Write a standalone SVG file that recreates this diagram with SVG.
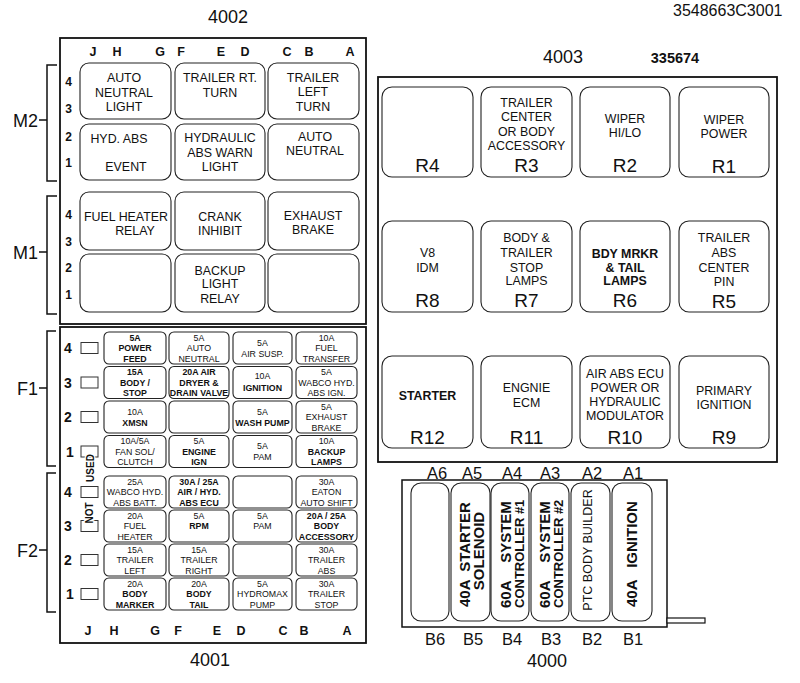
<svg xmlns="http://www.w3.org/2000/svg" width="800" height="683" viewBox="0 0 800 683">
<style>
text{font-family:"Liberation Sans",Arial,sans-serif;fill:#111}
.panel{fill:none;stroke:#111;stroke-width:1.8}
.box{fill:#fff;stroke:#222;stroke-width:1.1}
.sq{fill:#fff;stroke:#333;stroke-width:1}
.br{fill:none;stroke:#111;stroke-width:1.5}
.big{font-size:18px;text-anchor:middle}
.hd{font-size:12.5px;font-weight:bold;text-anchor:middle}
.rn{font-size:12px;font-weight:bold;text-anchor:middle}
.fn{font-size:14px;font-weight:bold;text-anchor:middle}
.rt{font-size:12.4px;text-anchor:middle}
.ft{font-size:8.8px;text-anchor:middle}
.b{font-weight:bold}
.rl{font-size:19px;text-anchor:middle}
.al{font-size:16.5px;text-anchor:middle}
.vt{font-size:15px;font-weight:bold}
</style>
<text x="673" y="16" font-size="16">3548663C3001</text>
<text x="228" y="23" class="big">4002</text>
<text x="210" y="666" class="big">4001</text>
<text x="563" y="63" class="big">4003</text>
<text x="675" y="63" font-size="14.5" font-weight="bold" text-anchor="middle">335674</text>
<text x="547" y="667" class="big">4000</text>

<g id="panel-4002">
<rect class="panel" x="60" y="38" width="306" height="286"/>
<g class="hdrs">
<text x="93" y="56" class="hd">J</text><text x="117" y="56" class="hd">H</text><text x="160" y="56" class="hd">G</text>
<text x="181" y="56" class="hd">F</text><text x="221" y="56" class="hd">E</text><text x="245" y="56" class="hd">D</text>
<text x="287" y="56" class="hd">C</text><text x="309" y="56" class="hd">B</text><text x="350" y="56" class="hd">A</text>
</g>
<text x="68.5" y="86" class="rn">4</text><text x="68.5" y="113" class="rn">3</text>
<text x="68.5" y="141" class="rn">2</text><text x="68.5" y="167" class="rn">1</text>
<text x="68.5" y="219" class="rn">4</text><text x="68.5" y="246" class="rn">3</text>
<text x="68.5" y="272" class="rn">2</text><text x="68.5" y="299" class="rn">1</text>
</g>
<g id="bracket-M2"><path class="br" d="M57,65 H47 V181 H57 M39,120 H47"/><text x="38" y="127" font-size="18" text-anchor="end">M2</text></g>
<g id="bracket-M1"><path class="br" d="M57,196 H47 V314 H57 M39,252 H47"/><text x="38" y="259" font-size="18" text-anchor="end">M1</text></g>

<g id="relay-M2-JG-43"><rect class="box" x="80" y="63" width="91" height="56" rx="9"/>
<text x="124" y="81.5" class="rt">AUTO</text><text x="124" y="96.5" class="rt">NEUTRAL</text><text x="124" y="110.5" class="rt">LIGHT</text></g>
<g id="relay-M2-FD-43"><rect class="box" x="175" y="63" width="90" height="56" rx="9"/>
<text x="220" y="81.5" class="rt">TRAILER RT.</text><text x="220" y="96.5" class="rt">TURN</text></g>
<g id="relay-M2-CA-43"><rect class="box" x="268" y="63" width="91" height="56" rx="9"/>
<text x="313" y="81.5" class="rt">TRAILER</text><text x="313" y="95.5" class="rt">LEFT</text><text x="313" y="110.5" class="rt">TURN</text></g>
<g id="relay-M2-JG-21"><rect class="box" x="80" y="124" width="91" height="56" rx="9"/>
<text x="119" y="142.5" class="rt">HYD. ABS</text><text x="126" y="170.5" class="rt">EVENT</text></g>
<g id="relay-M2-FD-21"><rect class="box" x="175" y="124" width="90" height="56" rx="9"/>
<text x="220" y="141.5" class="rt">HYDRAULIC</text><text x="220" y="156.5" class="rt">ABS WARN</text><text x="220" y="170.5" class="rt">LIGHT</text></g>
<g id="relay-M2-CA-21"><rect class="box" x="268" y="124" width="91" height="56" rx="9"/>
<text x="315" y="140.5" class="rt">AUTO</text><text x="315" y="154.5" class="rt">NEUTRAL</text></g>

<g id="relay-M1-JG-43"><rect class="box" x="80" y="192" width="91" height="58" rx="9"/>
<text x="126" y="220.5" class="rt">FUEL HEATER</text><text x="135" y="234.5" class="rt">RELAY</text></g>
<g id="relay-M1-FD-43"><rect class="box" x="175" y="192" width="90" height="58" rx="9"/>
<text x="220" y="220.5" class="rt">CRANK</text><text x="220" y="234.5" class="rt">INHIBIT</text></g>
<g id="relay-M1-CA-43"><rect class="box" x="268" y="192" width="91" height="58" rx="9"/>
<text x="313" y="219.5" class="rt">EXHAUST</text><text x="313" y="233.5" class="rt">BRAKE</text></g>
<g id="relay-M1-JG-21"><rect class="box" x="80" y="254" width="91" height="58" rx="9"/></g>
<g id="relay-M1-FD-21"><rect class="box" x="175" y="254" width="90" height="58" rx="9"/>
<text x="220" y="274.5" class="rt">BACKUP</text><text x="220" y="288" class="rt">LIGHT</text><text x="220" y="302.5" class="rt">RELAY</text></g>
<g id="relay-M1-CA-21"><rect class="box" x="268" y="254" width="91" height="58" rx="9"/></g>

<g id="panel-4001">
<rect class="panel" x="60" y="327" width="306" height="316"/>
<text x="88" y="635" class="hd">J</text><text x="114" y="635" class="hd">H</text><text x="155" y="635" class="hd">G</text>
<text x="178" y="635" class="hd">F</text><text x="217" y="635" class="hd">E</text><text x="241" y="635" class="hd">D</text>
<text x="283" y="635" class="hd">C</text><text x="304" y="635" class="hd">B</text><text x="347" y="635" class="hd">A</text>
<text x="68" y="353" class="fn">4</text><text x="68" y="387.5" class="fn">3</text><text x="68" y="422" class="fn">2</text><text x="70" y="456.5" class="fn">1</text>
<text x="68" y="497" class="fn">4</text><text x="68" y="531" class="fn">3</text><text x="68" y="565" class="fn">2</text><text x="70" y="599" class="fn">1</text>
<rect class="sq" x="81" y="342.5" width="17" height="11"/>
<rect class="sq" x="81" y="377" width="17" height="11"/>
<rect class="sq" x="81" y="411.5" width="17" height="11"/>
<rect class="sq" x="81" y="446" width="17" height="11"/>
<rect class="sq" x="81" y="486.5" width="17" height="11"/>
<rect class="sq" x="81" y="520.5" width="17" height="11"/>
<rect class="sq" x="81" y="554.5" width="17" height="11"/>
<rect class="sq" x="81" y="588.5" width="17" height="11"/>
<text transform="translate(94,468) rotate(-90)" font-size="10" font-weight="bold" text-anchor="middle" stroke="#fff" stroke-width="2.5" paint-order="stroke">USED</text>
<text transform="translate(93,513) rotate(-90)" font-size="10" font-weight="bold" text-anchor="middle" stroke="#fff" stroke-width="2.5" paint-order="stroke">NOT</text>
</g>
<g id="bracket-F1"><path class="br" d="M56,331 H47 V466 H56 M39,388 H47"/><text x="38" y="395" font-size="18" text-anchor="end">F1</text></g>
<g id="bracket-F2"><path class="br" d="M56,473 H47 V612 H56 M39,550 H47"/><text x="38" y="557" font-size="18" text-anchor="end">F2</text></g>

<!-- F1 row 4 -->
<g id="fuse-F1-4-JG"><rect class="box" x="104" y="332" width="62" height="32" rx="5"/>
<text x="135" y="340.7" class="ft b">5A</text><text x="135" y="351.2" class="ft b">POWER</text><text x="135" y="361.7" class="ft b">FEED</text></g>
<g id="fuse-F1-4-FE"><rect class="box" x="169" y="332" width="60" height="32" rx="5"/>
<text x="199" y="340.7" class="ft">5A</text><text x="199" y="351.2" class="ft">AUTO</text><text x="199" y="361.7" class="ft">NEUTRAL</text></g>
<g id="fuse-F1-4-DC"><rect class="box" x="233" y="332" width="59" height="32" rx="5"/>
<text x="262.5" y="345.7" class="ft">5A</text><text x="262.5" y="356.7" class="ft">AIR SUSP.</text></g>
<g id="fuse-F1-4-BA"><rect class="box" x="296" y="332" width="61" height="32" rx="5"/>
<text x="326.5" y="340.7" class="ft">10A</text><text x="326.5" y="351.2" class="ft">FUEL</text><text x="326.5" y="361.7" class="ft">TRANSFER</text></g>
<!-- F1 row 3 -->
<g id="fuse-F1-3-JG"><rect class="box" x="104" y="366.5" width="62" height="32" rx="5"/>
<text x="135" y="375.2" class="ft b">15A</text><text x="135" y="385.7" class="ft b">BODY /</text><text x="135" y="396.2" class="ft b">STOP</text></g>
<g id="fuse-F1-3-FE"><rect class="box" x="169" y="366.5" width="60" height="32" rx="5"/>
<text x="199" y="375.2" class="ft b">20A AIR</text><text x="199" y="385.7" class="ft b">DRYER &amp;</text><text x="199" y="396.2" class="ft b">DRAIN VALVE</text></g>
<g id="fuse-F1-3-DC"><rect class="box" x="233" y="366.5" width="59" height="32" rx="5"/>
<text x="262.5" y="379" class="ft">10A</text><text x="262.5" y="390.5" class="ft b">IGNITION</text></g>
<g id="fuse-F1-3-BA"><rect class="box" x="296" y="366.5" width="61" height="32" rx="5"/>
<text x="326.5" y="375.2" class="ft">5A</text><text x="326.5" y="385.7" class="ft">WABCO HYD.</text><text x="326.5" y="396.2" class="ft">ABS IGN.</text></g>
<!-- F1 row 2 -->
<g id="fuse-F1-2-JG"><rect class="box" x="104" y="401" width="62" height="32" rx="5"/>
<text x="135" y="414.7" class="ft">10A</text><text x="135" y="425.7" class="ft b">XMSN</text></g>
<g id="fuse-F1-2-FE"><rect class="box" x="169" y="401" width="60" height="32" rx="5"/></g>
<g id="fuse-F1-2-DC"><rect class="box" x="233" y="401" width="59" height="32" rx="5"/>
<text x="262.5" y="414.7" class="ft">5A</text><text x="262.5" y="425.7" class="ft b">WASH PUMP</text></g>
<g id="fuse-F1-2-BA"><rect class="box" x="296" y="401" width="61" height="32" rx="5"/>
<text x="326.5" y="409.7" class="ft">5A</text><text x="326.5" y="420.2" class="ft">EXHAUST</text><text x="326.5" y="430.7" class="ft">BRAKE</text></g>
<!-- F1 row 1 -->
<g id="fuse-F1-1-JG"><rect class="box" x="104" y="435.5" width="62" height="32" rx="5"/>
<text x="135" y="444.2" class="ft">10A/5A</text><text x="135" y="454.7" class="ft">FAN SOL/</text><text x="135" y="465.2" class="ft">CLUTCH</text></g>
<g id="fuse-F1-1-FE"><rect class="box" x="169" y="435.5" width="60" height="32" rx="5"/>
<text x="199" y="444.2" class="ft">5A</text><text x="199" y="454.7" class="ft b">ENGINE</text><text x="199" y="465.2" class="ft b">IGN</text></g>
<g id="fuse-F1-1-DC"><rect class="box" x="233" y="435.5" width="59" height="32" rx="5"/>
<text x="262.5" y="449.2" class="ft">5A</text><text x="262.5" y="460.2" class="ft">PAM</text></g>
<g id="fuse-F1-1-BA"><rect class="box" x="296" y="435.5" width="61" height="32" rx="5"/>
<text x="326.5" y="444.2" class="ft">10A</text><text x="326.5" y="454.7" class="ft b">BACKUP</text><text x="326.5" y="465.2" class="ft b">LAMPS</text></g>
<!-- F2 row 4 -->
<g id="fuse-F2-4-JG"><rect class="box" x="104" y="476" width="62" height="32" rx="5"/>
<text x="135" y="484.7" class="ft">25A</text><text x="135" y="495.2" class="ft">WABCO HYD.</text><text x="135" y="505.7" class="ft">ABS BATT.</text></g>
<g id="fuse-F2-4-FE"><rect class="box" x="169" y="476" width="60" height="32" rx="5"/>
<text x="199" y="484.7" class="ft b">30A / 25A</text><text x="199" y="495.2" class="ft b">AIR / HYD.</text><text x="199" y="505.7" class="ft b">ABS ECU</text></g>
<g id="fuse-F2-4-DC"><rect class="box" x="233" y="476" width="59" height="32" rx="5"/></g>
<g id="fuse-F2-4-BA"><rect class="box" x="296" y="476" width="61" height="32" rx="5"/>
<text x="326.5" y="484.7" class="ft">30A</text><text x="326.5" y="495.2" class="ft">EATON</text><text x="326.5" y="505.7" class="ft">AUTO SHIFT</text></g>
<!-- F2 row 3 -->
<g id="fuse-F2-3-JG"><rect class="box" x="104" y="510" width="62" height="32" rx="5"/>
<text x="135" y="518.7" class="ft">20A</text><text x="135" y="529.2" class="ft">FUEL</text><text x="135" y="539.7" class="ft">HEATER</text></g>
<g id="fuse-F2-3-FE"><rect class="box" x="169" y="510" width="60" height="32" rx="5"/>
<text x="199" y="518.7" class="ft">5A</text><text x="199" y="529.2" class="ft b">RPM</text></g>
<g id="fuse-F2-3-DC"><rect class="box" x="233" y="510" width="59" height="32" rx="5"/>
<text x="262.5" y="518.7" class="ft">5A</text><text x="262.5" y="529.2" class="ft">PAM</text></g>
<g id="fuse-F2-3-BA"><rect class="box" x="296" y="510" width="61" height="32" rx="5"/>
<text x="326.5" y="518.7" class="ft b">20A / 25A</text><text x="326.5" y="529.2" class="ft b">BODY</text><text x="326.5" y="539.7" class="ft b">ACCESSORY</text></g>
<!-- F2 row 2 -->
<g id="fuse-F2-2-JG"><rect class="box" x="104" y="544" width="62" height="32" rx="5"/>
<text x="135" y="552.7" class="ft">15A</text><text x="135" y="563.2" class="ft">TRAILER</text><text x="135" y="573.7" class="ft">LEFT</text></g>
<g id="fuse-F2-2-FE"><rect class="box" x="169" y="544" width="60" height="32" rx="5"/>
<text x="199" y="552.7" class="ft">15A</text><text x="199" y="563.2" class="ft">TRAILER</text><text x="199" y="573.7" class="ft">RIGHT</text></g>
<g id="fuse-F2-2-DC"><rect class="box" x="233" y="544" width="59" height="32" rx="5"/></g>
<g id="fuse-F2-2-BA"><rect class="box" x="296" y="544" width="61" height="32" rx="5"/>
<text x="326.5" y="552.7" class="ft">30A</text><text x="326.5" y="563.2" class="ft">TRAILER</text><text x="326.5" y="573.7" class="ft">ABS</text></g>
<!-- F2 row 1 -->
<g id="fuse-F2-1-JG"><rect class="box" x="104" y="578" width="62" height="32" rx="5"/>
<text x="135" y="586.7" class="ft">20A</text><text x="135" y="597.2" class="ft b">BODY</text><text x="135" y="607.7" class="ft b">MARKER</text></g>
<g id="fuse-F2-1-FE"><rect class="box" x="169" y="578" width="60" height="32" rx="5"/>
<text x="199" y="586.7" class="ft">20A</text><text x="199" y="597.2" class="ft b">BODY</text><text x="199" y="607.7" class="ft b">TAIL</text></g>
<g id="fuse-F2-1-DC"><rect class="box" x="233" y="578" width="59" height="32" rx="5"/>
<text x="262.5" y="586.7" class="ft">5A</text><text x="262.5" y="597.2" class="ft">HYDROMAX</text><text x="262.5" y="607.7" class="ft">PUMP</text></g>
<g id="fuse-F2-1-BA"><rect class="box" x="296" y="578" width="61" height="32" rx="5"/>
<text x="326.5" y="586.7" class="ft">30A</text><text x="326.5" y="597.2" class="ft">TRAILER</text><text x="326.5" y="607.7" class="ft">STOP</text></g>

<g id="panel-4003"><rect class="panel" x="378" y="77" width="399" height="385"/></g>
<g id="relay-R4"><rect class="box" x="382" y="87" width="91" height="90" rx="10"/><text x="427.5" y="172" class="rl">R4</text></g>
<g id="relay-R3"><rect class="box" x="481" y="87" width="91" height="90" rx="10"/>
<text x="526.5" y="106.5" class="rt">TRAILER</text><text x="526.5" y="120.5" class="rt">CENTER</text><text x="526.5" y="135.5" class="rt">OR BODY</text><text x="526.5" y="149.5" class="rt">ACCESSORY</text>
<text x="526.5" y="172" class="rl">R3</text></g>
<g id="relay-R2"><rect class="box" x="580" y="87" width="90" height="90" rx="10"/>
<text x="625" y="122.5" class="rt">WIPER</text><text x="625" y="136.5" class="rt">HI/LO</text><text x="625" y="172" class="rl">R2</text></g>
<g id="relay-R1"><rect class="box" x="679" y="87" width="90" height="90" rx="10"/>
<text x="724" y="123.5" class="rt">WIPER</text><text x="724" y="137.5" class="rt">POWER</text><text x="724" y="173" class="rl">R1</text></g>

<g id="relay-R8"><rect class="box" x="382" y="221" width="91" height="91" rx="10"/>
<text x="427.5" y="256.5" class="rt">V8</text><text x="427.5" y="271.5" class="rt">IDM</text><text x="427.5" y="307" class="rl">R8</text></g>
<g id="relay-R7"><rect class="box" x="481" y="221" width="91" height="91" rx="10"/>
<text x="526.5" y="241.5" class="rt">BODY &amp;</text><text x="526.5" y="256.5" class="rt">TRAILER</text><text x="526.5" y="271.5" class="rt">STOP</text><text x="526.5" y="284.5" class="rt">LAMPS</text>
<text x="526.5" y="307" class="rl">R7</text></g>
<g id="relay-R6"><rect class="box" x="580" y="221" width="90" height="91" rx="10"/>
<text x="625" y="257.5" class="rt b">BDY MRKR</text><text x="625" y="271.5" class="rt b">&amp; TAIL</text><text x="625" y="284.5" class="rt b">LAMPS</text>
<text x="625" y="307" class="rl">R6</text></g>
<g id="relay-R5"><rect class="box" x="679" y="221" width="90" height="91" rx="10"/>
<text x="724" y="241.5" class="rt">TRAILER</text><text x="724" y="256.5" class="rt">ABS</text><text x="724" y="271.5" class="rt">CENTER</text><text x="724" y="285.5" class="rt">PIN</text>
<text x="724" y="308" class="rl">R5</text></g>

<g id="relay-R12"><rect class="box" x="382" y="356" width="91" height="92" rx="10"/>
<text x="427.5" y="400" class="rt b" font-size="13">STARTER</text><text x="427.5" y="444" class="rl">R12</text></g>
<g id="relay-R11"><rect class="box" x="481" y="356" width="91" height="92" rx="10"/>
<text x="526.5" y="391.5" class="rt">ENGNIE</text><text x="526.5" y="406.5" class="rt">ECM</text><text x="526.5" y="444" class="rl">R11</text></g>
<g id="relay-R10"><rect class="box" x="580" y="356" width="90" height="92" rx="10"/>
<text x="625" y="377.5" class="rt">AIR ABS ECU</text><text x="625" y="391.5" class="rt">POWER OR</text><text x="625" y="405.5" class="rt">HYDRAULIC</text><text x="625" y="419.5" class="rt">MODULATOR</text>
<text x="625" y="444" class="rl">R10</text></g>
<g id="relay-R9"><rect class="box" x="679" y="356" width="90" height="92" rx="10"/>
<text x="724" y="394.5" class="rt">PRIMARY</text><text x="724" y="408.5" class="rt">IGNITION</text><text x="724" y="444" class="rl">R9</text></g>

<g id="block-4000">
<rect class="panel" x="402" y="480" width="265" height="147" style="stroke-width:1.5"/>
<rect fill="#fff" stroke="#111" stroke-width="1.2" x="667" y="618" width="38" height="5"/>
<text x="437" y="479" class="al">A6</text><text x="472" y="479" class="al">A5</text><text x="512" y="479" class="al">A4</text>
<text x="550" y="479" class="al">A3</text><text x="592" y="479" class="al">A2</text><text x="633" y="479" class="al">A1</text>
<text x="435" y="645" class="al">B6</text><text x="473" y="645" class="al">B5</text><text x="512" y="645" class="al">B4</text>
<text x="551" y="645" class="al">B3</text><text x="592" y="645" class="al">B2</text><text x="633" y="645" class="al">B1</text>
</g>
<g id="fuse-A6"><rect class="box" x="411" y="483" width="38" height="138" rx="10"/></g>
<g id="fuse-A5"><rect class="box" x="451" y="483" width="39" height="138" rx="10"/>
<text class="vt" transform="translate(470,607) rotate(-90)" word-spacing="4">40A STARTER</text>
<text class="vt" transform="translate(484,551) rotate(-90)" text-anchor="middle">SOLENOID</text></g>
<g id="fuse-A4"><rect class="box" x="491" y="483" width="38" height="138" rx="10"/>
<text class="vt" font-size="13.5" transform="translate(511,608) rotate(-90)" word-spacing="14">60A SYSTEM</text>
<text class="vt" style="font-size:13px" transform="translate(524,608) rotate(-90)">CONTROLLER #1</text></g>
<g id="fuse-A3"><rect class="box" x="531" y="483" width="38" height="138" rx="10"/>
<text class="vt" font-size="13.5" transform="translate(550,608) rotate(-90)" word-spacing="14">60A SYSTEM</text>
<text class="vt" style="font-size:13px" transform="translate(563,608) rotate(-90)">CONTROLLER #2</text></g>
<g id="fuse-A2"><rect class="box" x="571" y="483" width="39" height="138" rx="10"/>
<text font-size="12.5" transform="translate(592,550) rotate(-90)" text-anchor="middle">PTC BODY BUILDER</text></g>
<g id="fuse-A1"><rect class="box" x="612" y="483" width="40" height="138" rx="10"/>
<text class="vt" transform="translate(637,607) rotate(-90)" word-spacing="8">40A IGNITION</text></g>
<g id="connectors"></g>
</svg>
